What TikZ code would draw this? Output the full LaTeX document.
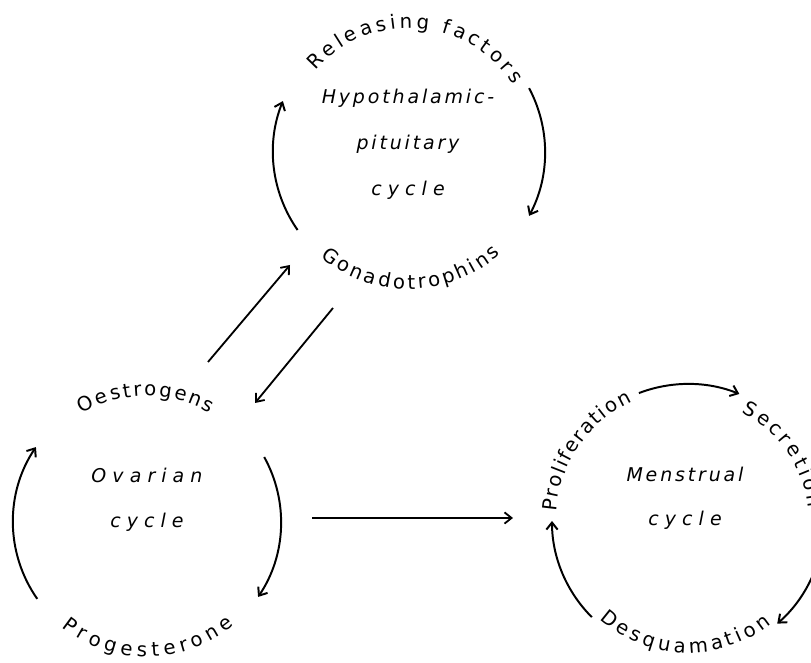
\documentclass[tikz,border=0pt]{standalone}
\usepackage{fontspec}
\setmainfont{DejaVu Sans}
\newfontfamily\tightletters[LetterSpace=15]{DejaVu Sans}
\newfontfamily\wideletters[LetterSpace=32]{DejaVu Sans}
\usetikzlibrary{arrows.meta,decorations.text}

\newcommand{\labelsize}{\fontsize{13.5}{16}\selectfont}
\newcommand{\arcsize}{\fontsize{14}{16}\selectfont}
\tikzset{
  cycarrow/.style={line width=1.4pt,-{Straight Barb[length=5pt,width=8pt]}},
  hormone/.style={line width=1.3pt,-{Straight Barb[length=5pt,width=8pt]}},
  inner/.style={align=center,font=\labelsize\itshape},
  arclabel/.style={decorate,decoration={text along path,
      text align=fit to path,text={|\arcsize|#1}}},
}

\begin{document}
\begin{tikzpicture}[x=0.025cm,y=0.025cm]
  \useasboundingbox (0,0) rectangle (811,663);
  % centres of the three cycles
  \coordinate (hp) at (409,511);
  \coordinate (ov) at (147,141);
  \coordinate (me) at (688,142);

  % hypothalamic-pituitary cycle
  \node[inner] (hptext) at (408,519)
    {\tightletters Hypothalamic-\\[16.6pt]\tightletters pituitary\\[16.6pt]\wideletters cycle};
  \path[arclabel={Releasing factors}] ([shift={(139:124)}]hp) arc[start angle=139,end angle=33,radius=124];
  \path[arclabel={Gonadotrophins}] ([shift={(230:137)}]hp) arc[start angle=230,end angle=312,radius=137];
  \draw[cycarrow] ([shift={(215:136)}]hp) arc[start angle=215,end angle=158,radius=136];
  \draw[cycarrow] ([shift={(28:136)}]hp) arc[start angle=28,end angle=-28,radius=136];

  % ovarian cycle
  \node[inner] (ovtext) at (147,163)
    {\wideletters Ovarian\\[16pt]\wideletters cycle};
  \path[arclabel={Oestrogens}] ([shift={(121:126)}]ov) arc[start angle=121,end angle=60,radius=126];
  \path[arclabel={Progesterone}] ([shift={(231:135)}]ov) arc[start angle=231,end angle=310,radius=135];
  \draw[cycarrow] ([shift={(215:134)}]ov) arc[start angle=215,end angle=146,radius=134];
  \draw[cycarrow] ([shift={(29:134)}]ov) arc[start angle=29,end angle=-34,radius=134];

  % menstrual cycle
  \node[inner] (metext) at (685,165)
    {\tightletters Menstrual\\[15pt]\wideletters cycle};
  \path[arclabel={Proliferation}] ([shift={(176:132)}]me) arc[start angle=176,end angle=115,radius=132];
  \path[arclabel={Secretion}] ([shift={(64:121)}]me) arc[start angle=64,end angle=6,radius=121];
  \path[arclabel={Desquamation}] ([shift={(228:132)}]me) arc[start angle=228,end angle=309,radius=132];
  \draw[cycarrow] ([shift={(111:137)}]me) arc[start angle=111,end angle=68,radius=137];
  \draw[cycarrow] ([shift={(-4:136)}]me) arc[start angle=-4,end angle=-49,radius=136];
  \draw[cycarrow] ([shift={(225:136)}]me) arc[start angle=225,end angle=180,radius=136];

  % links between the cycles
  \coordinate (oeup) at (208,301);
  \coordinate (gnup) at (290,398);
  \coordinate (gndown) at (333,355);
  \coordinate (oedown) at (255,260);
  \coordinate (ovout) at (312,145);
  \coordinate (mein) at (513,145);
  \draw[hormone] (oeup) -- (gnup);
  \draw[hormone] (gndown) -- (oedown);
  \draw[hormone] (ovout) -- (mein);
\end{tikzpicture}
\end{document}
